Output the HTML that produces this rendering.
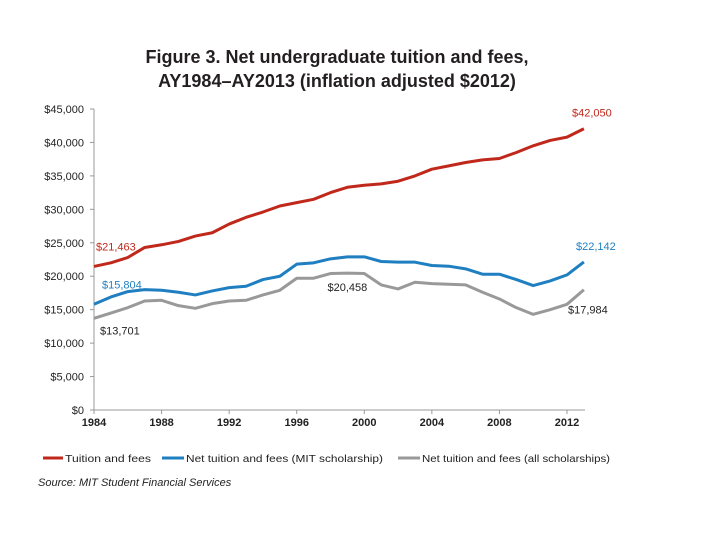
<!DOCTYPE html>
<html><head><meta charset="utf-8"><style>
body{margin:0;background:#fff;width:720px;height:540px;overflow:hidden;font-family:"Liberation Sans",sans-serif}
</style></head><body>
<svg id="chart" width="720" height="540" xmlns="http://www.w3.org/2000/svg">
<text x="337" y="63" text-anchor="middle" font-size="18" font-weight="bold" fill="#231f20">Figure 3. Net undergraduate tuition and fees,</text>
<text x="337" y="87" text-anchor="middle" font-size="18" font-weight="bold" fill="#231f20">AY1984–AY2013 (inflation adjusted $2012)</text>
<g id="axes"></g><g id="series"></g>
<g font-size="10.5" fill="#222">
<line x1="43" y1="458" x2="63" y2="458" stroke="#c0281b" stroke-width="3"/><text x="65" y="462" textLength="86" lengthAdjust="spacingAndGlyphs">Tuition and fees</text>
<line x1="162" y1="458" x2="184" y2="458" stroke="#1f7fc0" stroke-width="3"/><text x="186" y="462" textLength="197" lengthAdjust="spacingAndGlyphs">Net tuition and fees (MIT scholarship)</text>
<line x1="398" y1="458" x2="420" y2="458" stroke="#999" stroke-width="3"/><text x="422" y="462" textLength="188" lengthAdjust="spacingAndGlyphs">Net tuition and fees (all scholarships)</text>
</g>
<text x="38" y="486" font-size="11" font-style="italic" fill="#222">Source: MIT Student Financial Services</text>
</svg>
<script>
const years=[1984,1985,1986,1987,1988,1989,1990,1991,1992,1993,1994,1995,1996,1997,1998,1999,2000,2001,2002,2003,2004,2005,2006,2007,2008,2009,2010,2011,2012,2013];
const tuition=[21463,22000,22800,24300,24700,25200,26000,26500,27800,28800,29600,30500,31000,31500,32500,33300,33600,33800,34200,35000,36000,36500,37000,37400,37600,38500,39500,40300,40800,42050];
const netMit=[15804,16900,17700,18000,17900,17600,17200,17800,18300,18500,19500,20000,21800,22000,22600,22900,22900,22200,22100,22100,21600,21500,21100,20300,20300,19500,18600,19300,20200,22142];
const netAll=[13701,14500,15300,16300,16400,15600,15200,15900,16300,16400,17200,17900,19700,19700,20400,20458,20400,18700,18100,19100,18900,18800,18700,17600,16600,15300,14300,15000,15800,17984];
const yTicks=[0,5000,10000,15000,20000,25000,30000,35000,40000,45000];
const xTicks=[1984,1988,1992,1996,2000,2004,2008,2012];
const X=y=>94+(y-1984)*(567-94)/28;
const Y=v=>410-v*(410-109)/45000;
const NS="http://www.w3.org/2000/svg";
function mk(tag,attrs,parent,text){const e=document.createElementNS(NS,tag);for(const k in attrs)e.setAttribute(k,attrs[k]);if(text!==undefined)e.textContent=text;parent.appendChild(e);return e;}
const ax=document.getElementById('axes');
const yl=mk('line',{x1:94,y1:109,x2:94,y2:410,stroke:'#999'},ax);


const xl=mk('line',{x1:94,y1:410,x2:585,y2:410,stroke:'#999'},ax);


yTicks.forEach(v=>{mk('line',{x1:90,y1:Y(v),x2:94,y2:Y(v),stroke:'#999'},ax);
const t=mk('text',{x:84,y:Y(v)+4,'text-anchor':'end','font-size':11,fill:'#222'},ax,'$'+v.toLocaleString('en-US'));

});
xTicks.forEach(v=>{mk('line',{x1:X(v),y1:410,x2:X(v),y2:414,stroke:'#999'},ax);
const t=mk('text',{x:X(v),y:426,'text-anchor':'middle','font-size':11,'font-weight':'bold',fill:'#222'},ax,String(v));

});
const sg=document.getElementById('series');
function line(data,color,name){const p=mk('polyline',{points:data.map((v,i)=>X(years[i])+','+Y(v)).join(' '),fill:'none',stroke:color,'stroke-width':3,'stroke-linejoin':'round'},sg);

}
line(netAll,'#999','line-net-all-scholarships');
line(netMit,'#1f7fc0','line-net-mit-scholarship');
line(tuition,'#c0281b','line-tuition-and-fees');
const n=years.length-1;
function lab(x,y,txt,color,anchor){const t=mk('text',{x:x,y:y,'font-size':11,fill:color,'text-anchor':anchor||'start'},sg,txt);

}
const fmt=v=>'$'+v.toLocaleString('en-US');
lab(X(years[0])+2,Y(tuition[0])-16,fmt(tuition[0]),'#c0281b');
lab(X(years[n])+8,Y(tuition[n])-12,fmt(tuition[n]),'#c0281b','middle');
lab(X(years[0])+8,Y(netMit[0])-16,fmt(netMit[0]),'#1f7fc0');
lab(X(years[n])+12,Y(netMit[n])-12,fmt(netMit[n]),'#1f7fc0','middle');
lab(X(years[0])+6,Y(netAll[0])+16,fmt(netAll[0]),'#222');
lab(X(1999),Y(netAll[15])+18,fmt(netAll[15]),'#222','middle');
lab(X(years[n])+4,Y(netAll[n])+24,fmt(netAll[n]),'#222','middle');
</script>
</body></html>
